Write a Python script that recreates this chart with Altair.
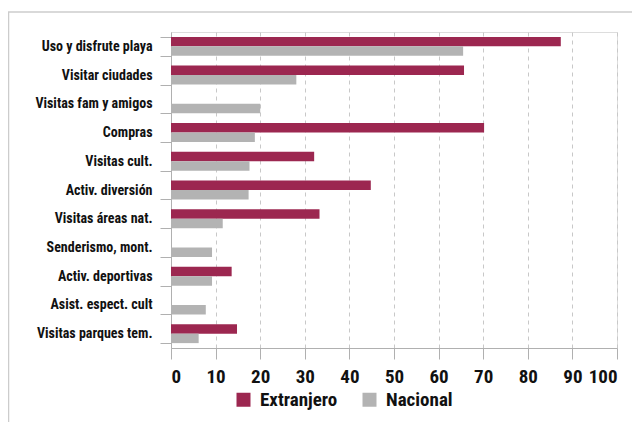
import altair as alt
import pandas as pd

categories = ["Uso y disfrute playa", "Visitar ciudades", "Visitas fam y amigos", "Compras",
              "Visitas cult.", "Activ. diversión", "Visitas áreas nat.", "Senderismo, mont.",
              "Activ. deportivas", "Asist. espect. cult", "Visitas parques tem."]
extranjero = [87.4, 65.7, None, 70.2, 32.1, 44.8, 33.3, None, 13.6, None, 14.8]
nacional = [65.5, 28.1, 20.0, 18.8, 17.6, 17.4, 11.6, 9.2, 9.2, 7.8, 6.2]
series = ["Extranjero", "Nacional"]
colors = ["#9c2750", "#b3b3b3"]
x_ticks = [0, 10, 20, 30, 40, 50, 60, 70, 80, 90, 100]

rows = []
for c, e, n in zip(categories, extranjero, nacional):
    if e is not None:
        rows.append({"cat": c, "serie": series[0], "valor": e})
    if n is not None:
        rows.append({"cat": c, "serie": series[1], "valor": n})
df = pd.DataFrame(rows)

FONT = "Roboto Condensed, Liberation Sans Narrow, DejaVu Sans Condensed, sans-serif"
W, H = 446, 316

bars = alt.Chart(df).mark_bar().encode(
    x=alt.X("valor:Q", scale=alt.Scale(domain=[0, 100], nice=False),
            axis=alt.Axis(values=x_ticks, title=None, grid=True, gridDash=[4, 4],
                          gridColor="#c8c8c8", domainColor="#b0b0b0", tickColor="#b0b0b0",
                          tickSize=11, labelPadding=8, labelFontSize=19, labelFont=FONT,
                          labelFontWeight="bold", labelColor="#111111",
                          labelOverlap=False)),
    y=alt.Y("cat:N", sort=categories,
            scale=alt.Scale(paddingInner=0.34, paddingOuter=0.17),
            axis=alt.Axis(title=None, tickBand="extent", tickSize=11, labelPadding=8,
                          domainColor="#b0b0b0", tickColor="#b0b0b0", labelFontSize=14,
                          labelFont=FONT, labelFontWeight="bold", labelColor="#111111")),
    yOffset=alt.YOffset("serie:N", sort=series),
    color=alt.Color("serie:N", scale=alt.Scale(domain=series, range=colors),
                    legend=alt.Legend(title=None, orient="none", direction="horizontal",
                                      legendX=63, legendY=358, symbolType="square",
                                      symbolSize=196, symbolStrokeWidth=0, labelFontSize=19,
                                      labelFont=FONT, labelFontWeight="bold",
                                      labelColor="#111111", labelOffset=7,
                                      columnPadding=22, padding=0)),
)

frame_top = alt.Chart().mark_rule(color="#cccccc", strokeWidth=1.5).encode(
    x=alt.value(-163), x2=alt.value(W + 40), y=alt.value(-20))
frame_left = alt.Chart().mark_rule(color="#cccccc", strokeWidth=1.5).encode(
    x=alt.value(-162.5), y=alt.value(-20), y2=alt.value(H + 100))

chart = alt.layer(frame_top, frame_left, bars).properties(
    width=W, height=H,
    autosize=alt.AutoSizeParams(type="none"),
    padding={"left": 163, "top": 24, "right": 15, "bottom": 74},
).configure_view(stroke=None).configure(background="white")

chart.save("out.html", embed_options={"renderer": "svg", "actions": False})
